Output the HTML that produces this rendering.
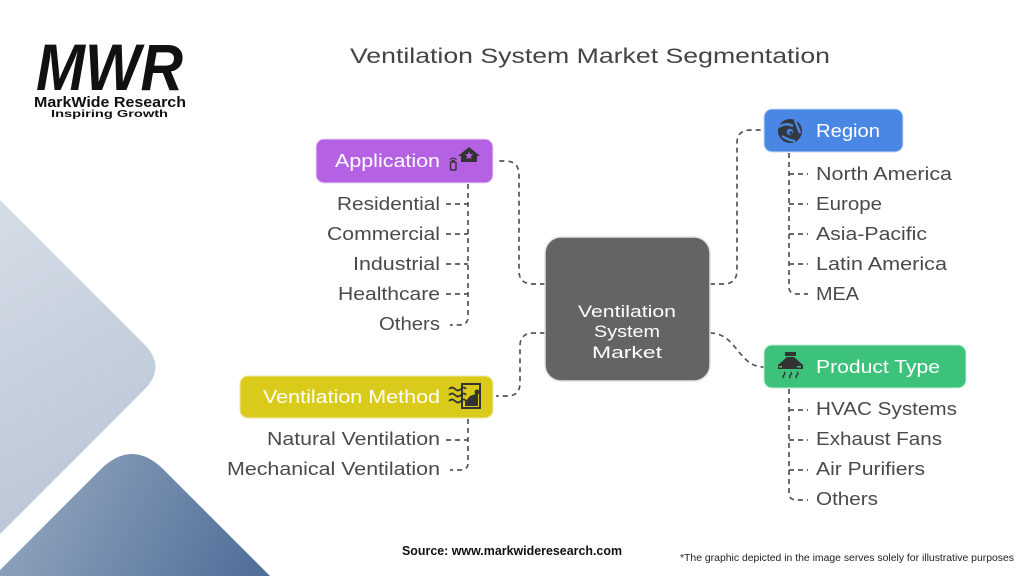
<!DOCTYPE html>
<html>
<head>
<meta charset="utf-8">
<style>
  html,body{margin:0;padding:0;background:#ffffff;overflow:hidden;}
  body{width:1024px;height:576px;overflow:hidden;}
  #wrap{position:relative;width:1024px;height:576px;overflow:hidden;}
  svg{display:block;overflow:hidden;}
  text{font-family:"Liberation Sans",Arial,sans-serif;}
</style>
</head>
<body>
<div id="wrap">
<svg width="1024" height="576" viewBox="0 0 1024 576" xmlns="http://www.w3.org/2000/svg">
  <defs>
    <linearGradient id="gLight" gradientUnits="userSpaceOnUse" x1="0" y1="220" x2="160" y2="500">
      <stop offset="0" stop-color="#d3dbe5"/>
      <stop offset="1" stop-color="#b8c5d4"/>
    </linearGradient>
    <linearGradient id="gDark" gradientUnits="userSpaceOnUse" x1="40" y1="470" x2="250" y2="576">
      <stop offset="0" stop-color="#8ea2bc"/>
      <stop offset="1" stop-color="#52709a"/>
    </linearGradient>
  </defs>

  <!-- background shapes -->
  <path d="M0,200 L144,344 Q167,367 144,390 L0,534 Z" fill="url(#gLight)"/>
  <path d="M0,570 L100,470 Q132,438 164,470 L270,576 L0,576 Z" fill="url(#gDark)"/>

  <!-- logo -->
  <text x="36" y="90" font-size="66" font-weight="bold" font-style="italic" fill="#111" textLength="147" lengthAdjust="spacingAndGlyphs">MWR</text>
  <text x="34" y="107" font-size="15" font-weight="bold" fill="#111" textLength="152" lengthAdjust="spacingAndGlyphs">MarkWide Research</text>
  <text x="51" y="117" font-size="10.5" font-weight="bold" fill="#111" textLength="117" lengthAdjust="spacingAndGlyphs">Inspiring Growth</text>

  <!-- title -->
  <text x="350" y="63" font-size="21" fill="#444" textLength="480" lengthAdjust="spacingAndGlyphs">Ventilation System Market Segmentation</text>

  <!-- connectors -->
  <g fill="none" stroke="#555" stroke-width="1.7" stroke-dasharray="5 4">
    <path d="M545,284 H533 Q519,284 519,271 V175 Q519,161 505,161 H496"/>
    <path d="M545,333 H534 Q520,333 520,346 V383 Q520,396 507,396 H496"/>
    <path d="M710,284 H723 Q737,284 737,270 V143 Q737,130 751,130 H764"/>
    <path d="M710,333 C737,333 738,367 764,367"/>

    <path d="M468,184 V317 Q468,325 459,325 H450"/>
    <path d="M446,204 H468"/>
    <path d="M446,234 H468"/>
    <path d="M446,264 H468"/>
    <path d="M446,294 H468"/>

    <path d="M468,419 V463 Q468,470 460,470 H450"/>
    <path d="M446,440 H468"/>

    <path d="M789,153 V287 Q789,294 797,294 H808"/>
    <path d="M789,174 H808"/>
    <path d="M789,204 H808"/>
    <path d="M789,234 H808"/>
    <path d="M789,264 H808"/>

    <path d="M789,389 V493 Q789,500 797,500 H808"/>
    <path d="M789,410 H808"/>
    <path d="M789,440 H808"/>
    <path d="M789,470 H808"/>
  </g>

  <!-- central box -->
  <rect x="545" y="237" width="165" height="144" rx="16" fill="#646464" stroke="#e2e2e2" stroke-width="1.5"/>
  <text x="627" y="317" font-size="17" fill="#fff" text-anchor="middle" textLength="98" lengthAdjust="spacingAndGlyphs">Ventilation</text>
  <text x="627" y="337" font-size="17" fill="#fff" text-anchor="middle" textLength="66" lengthAdjust="spacingAndGlyphs">System</text>
  <text x="627" y="358" font-size="17" fill="#fff" text-anchor="middle" textLength="70" lengthAdjust="spacingAndGlyphs">Market</text>

  <!-- Application box -->
  <rect x="316" y="139" width="177" height="44" rx="8" fill="#b462e3" stroke="#e8d8f3" stroke-width="1"/>
  <text x="335" y="167" font-size="18" fill="#fff" textLength="105" lengthAdjust="spacingAndGlyphs">Application</text>
  <path d="M458,156 L469,147 L480,156 L477,156 L477,162 L461,162 L461,156 Z" fill="#333"/>
  <path d="M469,151.5 l1.2,2.6 2.8,0.3 -2.1,1.9 0.6,2.8 -2.5,-1.4 -2.5,1.4 0.6,-2.8 -2.1,-1.9 2.8,-0.3 Z" fill="#b462e3"/>
  <rect x="450.5" y="162" width="5.5" height="8" rx="1" fill="none" stroke="#333" stroke-width="1.4"/>
  <path d="M450,159.5 Q453.2,157 456.5,159.5" fill="none" stroke="#333" stroke-width="1.2"/>
  <path d="M451.5,161 Q453.2,160 455,161" fill="none" stroke="#333" stroke-width="1.1"/>

  <g font-size="18" fill="#4a4a4a" text-anchor="end">
    <text x="440" y="210" textLength="103" lengthAdjust="spacingAndGlyphs">Residential</text>
    <text x="440" y="240" textLength="113" lengthAdjust="spacingAndGlyphs">Commercial</text>
    <text x="440" y="270" textLength="87" lengthAdjust="spacingAndGlyphs">Industrial</text>
    <text x="440" y="300" textLength="102" lengthAdjust="spacingAndGlyphs">Healthcare</text>
    <text x="440" y="330" textLength="61" lengthAdjust="spacingAndGlyphs">Others</text>
  </g>

  <!-- Ventilation Method box -->
  <rect x="240" y="376" width="253" height="42" rx="8" fill="#dacb1b" stroke="#efe7a8" stroke-width="1"/>
  <text x="263" y="403" font-size="18" fill="#fff" textLength="177" lengthAdjust="spacingAndGlyphs">Ventilation Method</text>
  <rect x="462" y="384" width="18" height="24" fill="none" stroke="#333" stroke-width="2"/>
  <path d="M465,402 L470,396 L478,393 L478,406 L465,406 Z" fill="#333"/>
  <circle cx="477" cy="392" r="2.5" fill="#333"/>
  <g fill="none" stroke="#333" stroke-width="1.8">
    <path d="M449,389 q3,-3 6,0 t6,0 t5,0"/>
    <path d="M449,395 q3,-3 6,0 t6,0 t5,0"/>
    <path d="M449,401 q3,-3 6,0 t6,0 t5,0"/>
  </g>

  <g font-size="18" fill="#4a4a4a" text-anchor="end">
    <text x="440" y="445" textLength="173" lengthAdjust="spacingAndGlyphs">Natural Ventilation</text>
    <text x="440" y="475" textLength="213" lengthAdjust="spacingAndGlyphs">Mechanical Ventilation</text>
  </g>

  <!-- Region box -->
  <rect x="764" y="109" width="139" height="43" rx="8" fill="#4a86e4" stroke="#c9dbf6" stroke-width="1"/>
  <text x="816" y="137" font-size="18" fill="#fff" textLength="64" lengthAdjust="spacingAndGlyphs">Region</text>
  <circle cx="790" cy="131" r="12" fill="#33383f"/>
  <g fill="none" stroke="#4a86e4" stroke-width="2.4">
    <path d="M779,127 Q786,122 793,126"/>
    <path d="M795,120 Q798,128 800,133"/>
    <path d="M782,136 Q788,140 795,141"/>
  </g>
  <circle cx="790" cy="132" r="3.2" fill="#4a86e4"/>
  <circle cx="791" cy="133" r="1.6" fill="#33383f"/>

  <g font-size="18" fill="#4a4a4a">
    <text x="816" y="180" textLength="136" lengthAdjust="spacingAndGlyphs">North America</text>
    <text x="816" y="210" textLength="66" lengthAdjust="spacingAndGlyphs">Europe</text>
    <text x="816" y="240" textLength="111" lengthAdjust="spacingAndGlyphs">Asia-Pacific</text>
    <text x="816" y="270" textLength="131" lengthAdjust="spacingAndGlyphs">Latin America</text>
    <text x="816" y="300" textLength="43" lengthAdjust="spacingAndGlyphs">MEA</text>
  </g>

  <!-- Product Type box -->
  <rect x="764" y="345" width="202" height="43" rx="8" fill="#3dc27b" stroke="#c6ecd7" stroke-width="1"/>
  <text x="816" y="373" font-size="18" fill="#fff" textLength="124" lengthAdjust="spacingAndGlyphs">Product Type</text>
  <rect x="785" y="352" width="11" height="4" fill="#333"/>
  <path d="M787,357 L794,357 L803,365 L803,369 L778,369 L778,365 Z" fill="#333"/>
  <rect x="779" y="366" width="3" height="1.5" fill="#3dc27b"/>
  <rect x="797" y="366" width="4" height="1.5" fill="#3dc27b"/>
  <g fill="none" stroke="#333" stroke-width="1.4">
    <path d="M784,372 q2,1.5 0,3 q-2,1.5 0,3"/>
    <path d="M790.5,372 q2,1.5 0,3 q-2,1.5 0,3"/>
    <path d="M797,372 q2,1.5 0,3 q-2,1.5 0,3"/>
  </g>

  <g font-size="18" fill="#4a4a4a">
    <text x="816" y="415" textLength="141" lengthAdjust="spacingAndGlyphs">HVAC Systems</text>
    <text x="816" y="445" textLength="126" lengthAdjust="spacingAndGlyphs">Exhaust Fans</text>
    <text x="816" y="475" textLength="109" lengthAdjust="spacingAndGlyphs">Air Purifiers</text>
    <text x="816" y="505" textLength="62" lengthAdjust="spacingAndGlyphs">Others</text>
  </g>

  <!-- footer -->
  <text x="402" y="555" font-size="12.5" font-weight="bold" fill="#111" textLength="220" lengthAdjust="spacingAndGlyphs">Source: www.markwideresearch.com</text>
  <text x="680" y="561" font-size="10" fill="#222" textLength="334" lengthAdjust="spacingAndGlyphs">*The graphic depicted in the image serves solely for illustrative purposes</text>
</svg>
</div>
</body>
</html>
